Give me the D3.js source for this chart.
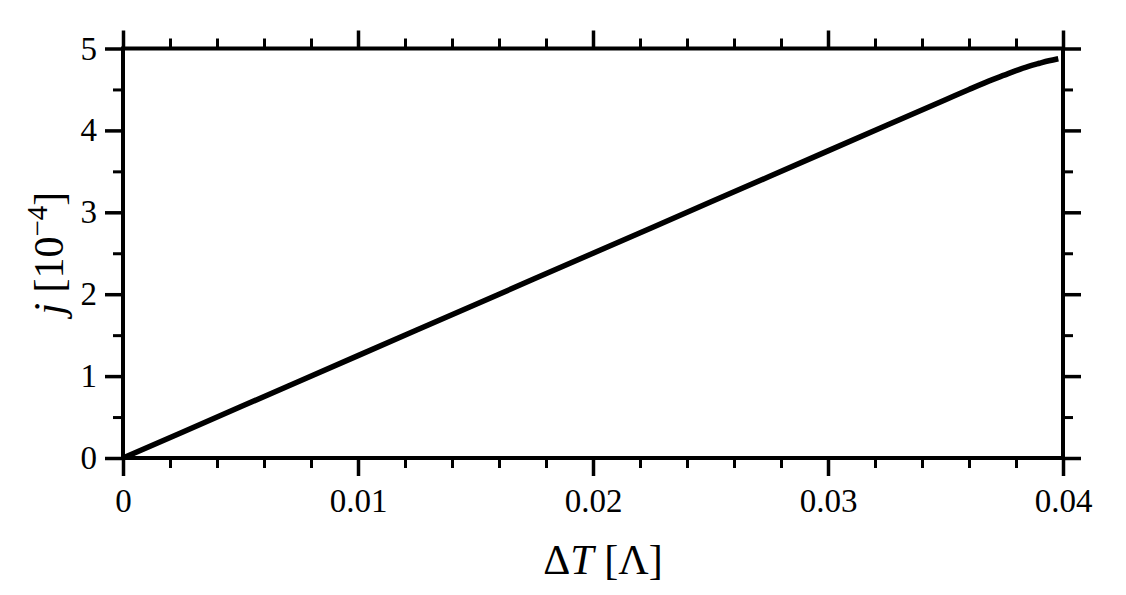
<!DOCTYPE html>
<html>
<head>
<meta charset="utf-8">
<script src="https://cdn.jsdelivr.net/npm/d3@7"></script>
<style>
  html, body { margin: 0; padding: 0; background: #fff; }
  svg { display: block; }
  text { font-family: "Liberation Serif", "DejaVu Serif", serif; fill: #000; }
</style>
</head>
<body>
<svg id="chart" width="1126" height="595"></svg>
<script>
// ---- data ----
const deltaT = [0, 0.005, 0.01, 0.015, 0.02, 0.025, 0.03, 0.035, 0.036, 0.037, 0.0375, 0.038, 0.0385, 0.039, 0.0394, 0.0398];
const jValues = [0, 0.625, 1.25, 1.875, 2.5, 3.125, 3.75, 4.375, 4.5, 4.62, 4.675, 4.73, 4.78, 4.82, 4.85, 4.875];
const xMajorTicks = [0, 0.01, 0.02, 0.03, 0.04];
const xTickLabels = ["0", "0.01", "0.02", "0.03", "0.04"];
const yMajorTicks = [0, 1, 2, 3, 4, 5];
const yTickLabels = ["0", "1", "2", "3", "4", "5"];
const xMinorTicks = [0.002, 0.004, 0.006, 0.008, 0.012, 0.014, 0.016, 0.018, 0.022, 0.024, 0.026, 0.028, 0.032, 0.034, 0.036, 0.038];
const yMinorTicks = [0.5, 1.5, 2.5, 3.5, 4.5];

// ---- layout ----
const svg = d3.select("#chart");
const pLeft = 123, pRight = 1063, pTop = 48.5, pBottom = 458;
const x = d3.scaleLinear().domain([0, 0.04]).range([pLeft, pRight]);
const y = d3.scaleLinear().domain([0, 5]).range([pBottom, pTop]);
const majorLen = 18, minorLen = 10;

function styleAxis(g, w) {
  g.select(".domain").remove();
  g.selectAll(".tick line").attr("stroke", "#000").attr("stroke-width", w);
}

// minor ticks (outward)
svg.append("g").attr("transform", `translate(0,${pBottom})`)
  .call(d3.axisBottom(x).tickValues(xMinorTicks).tickSize(minorLen).tickFormat(""))
  .call(g => styleAxis(g, 3));
svg.append("g").attr("transform", `translate(0,${pTop})`)
  .call(d3.axisTop(x).tickValues(xMinorTicks).tickSize(minorLen).tickFormat(""))
  .call(g => styleAxis(g, 3));
svg.append("g").attr("transform", `translate(${pLeft},0)`)
  .call(d3.axisLeft(y).tickValues(yMinorTicks).tickSize(minorLen).tickFormat(""))
  .call(g => styleAxis(g, 3));
svg.append("g").attr("transform", `translate(${pRight},0)`)
  .call(d3.axisRight(y).tickValues(yMinorTicks).tickSize(minorLen).tickFormat(""))
  .call(g => styleAxis(g, 3));

// major ticks
svg.append("g").attr("transform", `translate(0,${pBottom})`)
  .call(d3.axisBottom(x).tickValues(xMajorTicks).tickSize(majorLen).tickFormat((d, i) => xTickLabels[i]))
  .call(g => {
    styleAxis(g, 3.5);
    g.selectAll(".tick text").attr("font-size", 33).attr("font-family", "Liberation Serif")
      .attr("y", 54).attr("dy", null);
  });
svg.append("g").attr("transform", `translate(0,${pTop})`)
  .call(d3.axisTop(x).tickValues(xMajorTicks).tickSize(majorLen).tickFormat(""))
  .call(g => styleAxis(g, 3.5));
svg.append("g").attr("transform", `translate(${pLeft},0)`)
  .call(d3.axisLeft(y).tickValues(yMajorTicks).tickSize(majorLen).tickFormat((d, i) => yTickLabels[i]))
  .call(g => {
    styleAxis(g, 3.5);
    g.selectAll(".tick text").attr("font-size", 33).attr("font-family", "Liberation Serif")
      .attr("x", -26).attr("dy", "0.32em");
  });
svg.append("g").attr("transform", `translate(${pRight},0)`)
  .call(d3.axisRight(y).tickValues(yMajorTicks).tickSize(majorLen).tickFormat(""))
  .call(g => styleAxis(g, 3.5));

// frame
svg.append("rect")
  .attr("x", pLeft).attr("y", pTop)
  .attr("width", pRight - pLeft).attr("height", pBottom - pTop)
  .attr("fill", "none").attr("stroke", "#000").attr("stroke-width", 4);

// curve
const pts = deltaT.map((d, i) => [d, jValues[i]]);
svg.append("path")
  .datum(pts)
  .attr("fill", "none")
  .attr("stroke", "#000")
  .attr("stroke-width", 5.5)
  .attr("stroke-linecap", "butt")
  .attr("d", d3.line().x(d => x(d[0])).y(d => y(d[1])).curve(d3.curveMonotoneX));

// x label
const xl = svg.append("text")
  .attr("x", 603).attr("y", 574)
  .attr("text-anchor", "middle")
  .attr("font-size", 42);
xl.append("tspan").text("Δ");
xl.append("tspan").attr("font-style", "italic").text("T");
xl.append("tspan").text(" [Λ]");

// y label
const yl = svg.append("text")
  .attr("transform", `translate(63,${(pTop + pBottom) / 2}) rotate(-90)`)
  .attr("text-anchor", "middle")
  .attr("font-size", 42);
yl.append("tspan").attr("font-style", "italic").text("j");
yl.append("tspan").text(" [10");
yl.append("tspan").attr("font-size", 29).attr("dy", -16).text("−4");
yl.append("tspan").attr("dy", 16).text("]");
</script>
</body>
</html>
